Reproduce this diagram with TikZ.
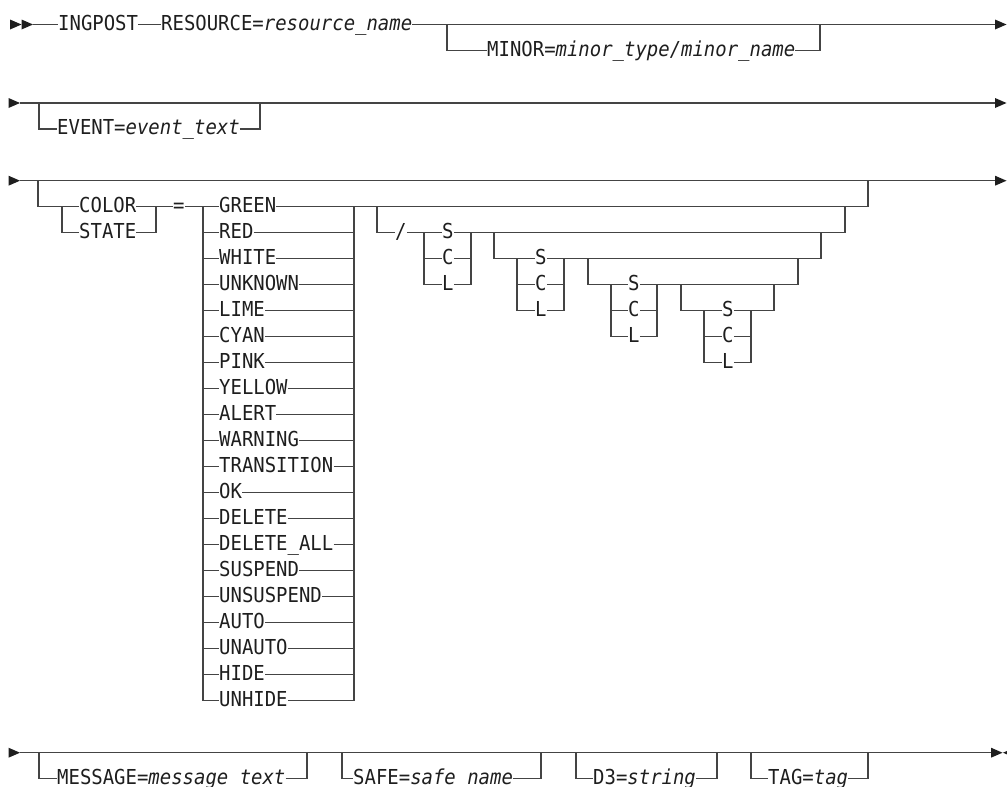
\documentclass[tikz,border=0pt]{standalone}
\usepackage{fontspec}
\newfontfamily\rrfont[FakeStretch=0.92]{DejaVu Sans Mono}
\definecolor{linegray}{HTML}{444444}
\definecolor{inkblack}{HTML}{1E1E1E}
\newcommand\rrarrowR[2]{\fill[inkblack] (#1,#2-5) -- ++(11.5,5) -- ++(-11.5,5) -- cycle;}
\newcommand\rrarrowL[2]{\fill[inkblack] (#1,#2) -- ++(11.5,-5) -- ++(0,10) -- cycle;}
\begin{document}
\begin{tikzpicture}[x=1pt,y=-1pt,
  rr/.style={line width=1.3pt, draw=linegray},
  lbl/.style={anchor=west, inner sep=0pt, text height=11.4pt, text depth=0pt,
    font=\rrfont\fontsize{20.6}{24}\selectfont, text=inkblack}]
\useasboundingbox (0,0) rectangle (1007,787);

% ---------- row 1 ----------
\rrarrowR{10}{24.5}
\rrarrowR{21.5}{24.5}
\node[lbl] (ing) at (58,24.5) {INGPOST};
\node[lbl] (res) at (161,24.5) {RESOURCE=\textit{resource\_name}};
\node[lbl] (minor) at (487,50.5) {MINOR=\textit{minor\_type/minor\_name}};
\coordinate (r1end) at (995,24.5);
\draw[rr] (33,24.5) -- (ing.west);
\draw[rr] (ing.east) -- (res.west);
\draw[rr] (res.east) -- (r1end);
\rrarrowR{995}{24.5}
\draw[rr] (447,24.5) -- (447,50.5) -- (minor.west);
\draw[rr] (minor.east) -- (820,50.5) -- (820,24.5);

% ---------- row 2 ----------
\rrarrowR{8.5}{103}
\draw[rr] (20,103) -- (995,103);
\rrarrowR{995}{103}
\node[lbl] (event) at (57,129) {EVENT=\textit{event\_text}};
\draw[rr] (39,103) -- (39,129) -- (event.west);
\draw[rr] (event.east) -- (260,129) -- (260,103);

% ---------- row 3 ----------
\rrarrowR{8.5}{180.7}
\draw[rr] (20,180.7) -- (995,180.7);
\rrarrowR{995}{180.7}
\node[lbl] (color) at (79,206.7) {COLOR};
\node[lbl] (state) at (79,232.7) {STATE};
\node[lbl] (eq) at (173,206.7) {=};
\draw[rr] (38,180.7) -- (38,206.7) -- (color.west);
\draw[rr] (62,206.7) -- (62,232.7) -- (state.west);
\draw[rr] (color.east) -- (156,206.7);
\draw[rr] (state.east) -- (156,232.7) -- (156,206.7) -- (eq.west);
\draw[rr] (eq.east) -- (203,206.7);
% colour choice
\draw[rr] (203,206.7) -- (203,700.7);
\draw[rr] (354,206.7) -- (354,700.7);
\foreach \t [count=\i] in {GREEN,RED,WHITE,UNKNOWN,LIME,CYAN,PINK,YELLOW,ALERT,WARNING,TRANSITION,OK,DELETE,DELETE\_ALL,SUSPEND,UNSUSPEND,AUTO,UNAUTO,HIDE,UNHIDE}{
  \pgfmathsetmacro\yy{206.7+26*(\i-1)}
  \node[lbl] (col\i) at (219,\yy) {\t};
  \draw[rr] (203,\yy) -- (col\i.west);
  \draw[rr] (col\i.east) -- (354,\yy);
}
\draw[rr] (354,206.7) -- (868,206.7) -- (868,180.7);
% slash option
\node[lbl] (slash) at (395,232.7) {/};
\draw[rr] (377,206.7) -- (377,232.7) -- (slash.west);
\draw[rr] (slash.east) -- (424,232.7);
% S/C/L groups
\foreach \g/\xl/\xt/\xr/\yt in {1/424/442/471/232.7, 2/517/535/564/258.7, 3/611/628/657/284.7, 4/704/722/751/310.7}{
  \node[lbl] (s\g) at (\xt,\yt) {S};
  \node[lbl] (c\g) at (\xt,\yt+26) {C};
  \node[lbl] (l\g) at (\xt,\yt+52) {L};
  \draw[rr] (\xl,\yt) -- (\xl,\yt+52);
  \draw[rr] (\xr,\yt) -- (\xr,\yt+52);
  \draw[rr] (\xl,\yt) -- (s\g.west) (s\g.east) -- (\xr,\yt);
  \draw[rr] (\xl,\yt+26) -- (c\g.west) (c\g.east) -- (\xr,\yt+26);
  \draw[rr] (\xl,\yt+52) -- (l\g.west) (l\g.east) -- (\xr,\yt+52);
}
\draw[rr] (471,232.7) -- (845,232.7) -- (845,206.7);
\draw[rr] (494,232.7) -- (494,258.7) -- (517,258.7);
\draw[rr] (564,258.7) -- (821,258.7) -- (821,232.7);
\draw[rr] (588,258.7) -- (588,284.7) -- (611,284.7);
\draw[rr] (657,284.7) -- (798,284.7) -- (798,258.7);
\draw[rr] (681,284.7) -- (681,310.7) -- (704,310.7);
\draw[rr] (751,310.7) -- (774,310.7) -- (774,284.7);

% ---------- row 4 ----------
\rrarrowR{8.5}{752.7}
\draw[rr] (20,752.7) -- (991,752.7);
\rrarrowR{991}{752.7}
\rrarrowL{1003}{752.7}
\node[lbl] (msg) at (57,778.7) {MESSAGE=\textit{message\_text}};
\node[lbl] (safe) at (353,778.7) {SAFE=\textit{safe\_name}};
\node[lbl] (d3) at (593,778.7) {D3=\textit{string}};
\node[lbl] (tag) at (768,778.7) {TAG=\textit{tag}};
\draw[rr] (39,752.7) -- (39,778.7) -- (msg.west);
\draw[rr] (msg.east) -- (307,778.7) -- (307,752.7);
\draw[rr] (342,752.7) -- (342,778.7) -- (safe.west);
\draw[rr] (safe.east) -- (541,778.7) -- (541,752.7);
\draw[rr] (576,752.7) -- (576,778.7) -- (d3.west);
\draw[rr] (d3.east) -- (717,778.7) -- (717,752.7);
\draw[rr] (751,752.7) -- (751,778.7) -- (tag.west);
\draw[rr] (tag.east) -- (868,778.7) -- (868,752.7);
\end{tikzpicture}
\end{document}
